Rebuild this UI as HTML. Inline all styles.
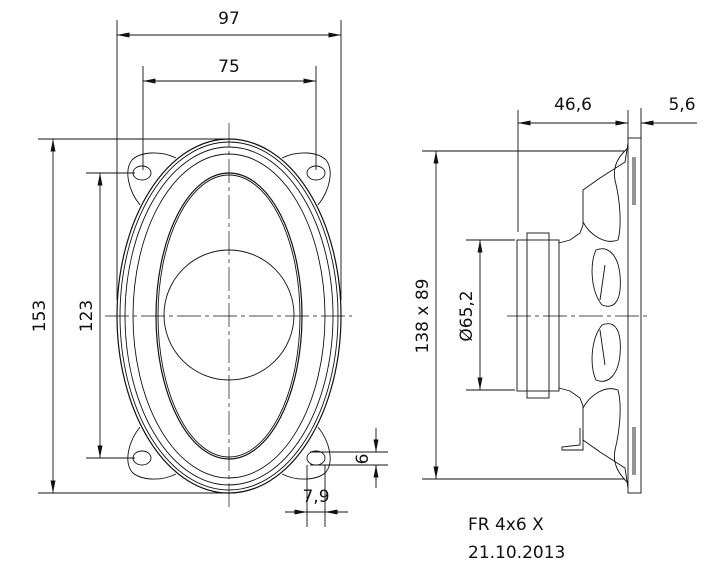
<!DOCTYPE html>
<html><head><meta charset="utf-8"><style>
html,body{margin:0;padding:0;background:#fff;}
svg{display:block;}
text{font-family:"DejaVu Sans","Liberation Sans",sans-serif;fill:#111;}
</style></head><body>
<svg width="714" height="587" viewBox="0 0 714 587" xmlns="http://www.w3.org/2000/svg">
<defs>
<marker id="a" viewBox="0 0 10 4" refX="10" refY="2" markerWidth="14" markerHeight="5" orient="auto-start-reverse" markerUnits="userSpaceOnUse"><path d="M0,0 L10,2 L0,4z" fill="#111"/></marker>
</defs>
<g stroke="#111" fill="none" stroke-width="0.9">
<!-- ears -->
<path d="M176,158 C160,150 140,152 132,160 C124,170 128,190 140,205"/>
<path d="M282,158 C298,150 318,152 326,160 C334,170 330,190 318,205"/>
<path d="M176,474 C160,482 140,480 132,472 C124,462 128,442 140,427"/>
<path d="M282,474 C298,482 318,480 326,472 C334,462 330,442 318,427"/>
<ellipse cx="142" cy="173" rx="9" ry="7"/><ellipse cx="316" cy="173" rx="9" ry="7"/>
<ellipse cx="142" cy="458" rx="9" ry="7"/><ellipse cx="316" cy="458" rx="9" ry="7"/>
<!-- ellipses -->
<ellipse cx="229" cy="316" rx="112" ry="177" fill="#fff" stroke-width="1.2"/>
<ellipse cx="229" cy="316" rx="109" ry="174"/>
<ellipse cx="229" cy="316" rx="104" ry="169"/>
<ellipse cx="229" cy="316" rx="96" ry="162"/>
<ellipse cx="229" cy="316" rx="73" ry="143" stroke-width="1.2"/>
<ellipse cx="229" cy="316" rx="71" ry="141"/>
<circle cx="229" cy="315" r="65"/>
<!-- centerlines -->
<path d="M229,123 V507 M105,316 H352" stroke-dasharray="24,4,4,4" stroke-width="0.7"/>
<!-- dims left -->
<path d="M117,20 V300 M341,20 V300 M143,66 V170 M316,66 V170"/>
<path d="M117,35 H341" marker-start="url(#a)" marker-end="url(#a)"/>
<path d="M143,81 H316" marker-start="url(#a)" marker-end="url(#a)"/>
<path d="M38,139 H229 M38,493 H229 M86,173 H135 M86,458 H135"/>
<path d="M53,139 V493" marker-start="url(#a)" marker-end="url(#a)"/>
<path d="M100,173 V458" marker-start="url(#a)" marker-end="url(#a)"/>
<path d="M310,452 H388 M310,465 H388 M376,428 V452 M376,465 V488" />
<path d="M376,437 V452" marker-end="url(#a)"/><path d="M376,480 V465" marker-end="url(#a)"/>
<path d="M307,465 V527 M325,465 V527 M285,512 H348"/>
<path d="M292,512 H307" marker-end="url(#a)"/><path d="M340,512 H325" marker-end="url(#a)"/>
<!-- right view -->
<rect x="628" y="138" width="13" height="355" fill="#fff"/>
<path d="M633,157 V205 M635,157 V205 M633,427 V475 M635,427 V475"/>
<rect x="527" y="233" width="22" height="165" fill="#fff"/>
<rect x="517" y="240" width="42" height="151"/>
<path d="M559,243 L570,240 L580,233 L583,225 L583,190 L600,178 L625,162 L628,143"/>
<path d="M559,388 L570,391 L580,398 L583,406 L583,440 L600,452 L625,468 L628,488"/>
<path d="M583,222 C590,235 605,245 618,240 C622,225 620,200 615,180 C612,165 620,155 628,148"/>
<path d="M583,408 C590,395 605,385 618,390 C622,405 620,430 615,450 C612,465 620,475 628,483"/>
<path d="M596,250 C590,262 590,290 602,305 C615,310 622,300 620,275 C618,255 608,245 596,250z M605,265 L600,300"/>
<path d="M596,380 C590,368 590,340 602,325 C615,320 622,330 620,355 C618,375 608,385 596,380z M605,365 L600,330"/>
<path d="M580,428 V445 L562,447 V450 L583,450 V430"/>
<path d="M507,316 H648" stroke-dasharray="24,4,4,4" stroke-width="0.7"/>
<path d="M518,110 V232 M628,110 V138 M641,108 V138 M641,123 H697"/>
<path d="M518,123 H628" marker-start="url(#a)" marker-end="url(#a)"/>
<path d="M656,123 H641" marker-end="url(#a)"/>
<path d="M422,151 H625 M422,479 H625 M466,240 H515 M466,390 H515"/>
<path d="M436,151 V479" marker-start="url(#a)" marker-end="url(#a)"/>
<path d="M480,240 V390" marker-start="url(#a)" marker-end="url(#a)"/>
</g>
<g font-size="17">
<text x="229" y="24" text-anchor="middle">97</text>
<text x="229" y="72" text-anchor="middle">75</text>
<text transform="translate(45,316) rotate(-90)" text-anchor="middle">153</text>
<text transform="translate(92,316) rotate(-90)" text-anchor="middle">123</text>
<text transform="translate(368,459) rotate(-90)" text-anchor="middle">6</text>
<text x="316" y="502" text-anchor="middle">7,9</text>
<text x="573" y="110" text-anchor="middle">46,6</text>
<text x="682" y="110" text-anchor="middle">5,6</text>
<text transform="translate(428,316) rotate(-90)" text-anchor="middle">138 x 89</text>
<text transform="translate(472,316) rotate(-90)" text-anchor="middle">Ø65,2</text>
<text x="468" y="530">FR 4x6 X</text>
<text x="468" y="558">21.10.2013</text>
</g>
</svg>
</body></html>
